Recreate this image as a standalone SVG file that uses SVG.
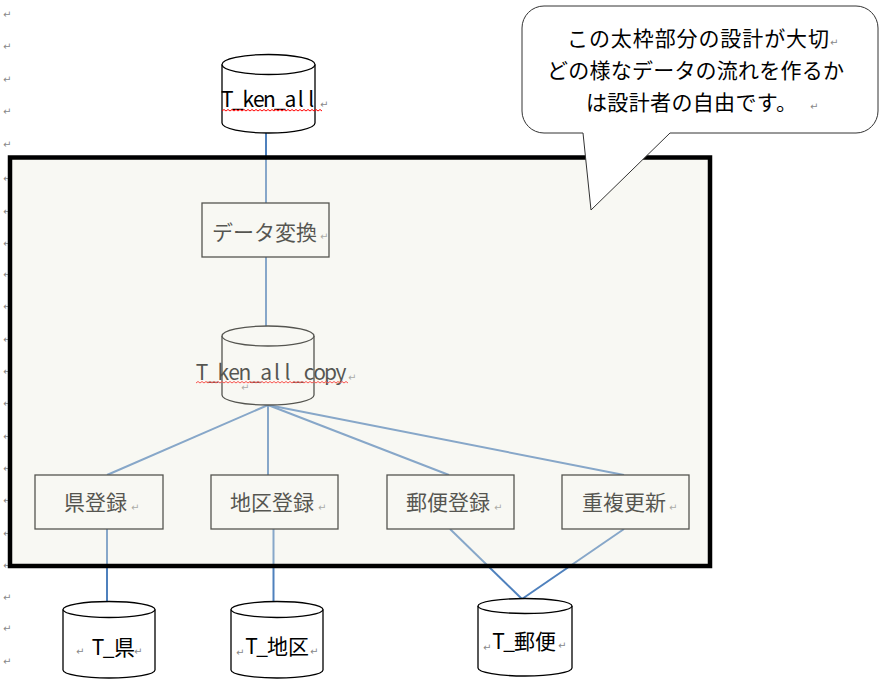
<svg xmlns="http://www.w3.org/2000/svg" width="885" height="687" viewBox="0 0 885 687">
<defs>
<style>
.jp{font-family:"Noto Sans CJK JP","Noto Sans CJK SC",sans-serif;font-size:21px;fill:#000}
.lat{font-family:"Noto Sans CJK JP","DejaVu Sans",sans-serif;font-size:21px;fill:#000;text-anchor:middle}
.pm{font-family:"DejaVu Sans",sans-serif;font-size:10px;fill:#888}
.cyl{fill:#fff;stroke:#000;stroke-width:1.3}
.box{fill:#fff;stroke:#000;stroke-width:1.3}
.con{stroke:#4f81bd;stroke-width:2;fill:none}
.wave{stroke:#f00;stroke-width:1;fill:none}
</style>
</defs>
<rect width="885" height="687" fill="#fff"/>
<g id="margin-marks">
<text class="pm" x="3" y="18">↵</text><text class="pm" x="3" y="50">↵</text><text class="pm" x="3" y="83">↵</text><text class="pm" x="3" y="115">↵</text><text class="pm" x="3" y="148">↵</text><text class="pm" x="3" y="182">↵</text><text class="pm" x="3" y="215">↵</text><text class="pm" x="3" y="247">↵</text><text class="pm" x="3" y="278">↵</text><text class="pm" x="3" y="310">↵</text><text class="pm" x="3" y="343">↵</text><text class="pm" x="3" y="375">↵</text><text class="pm" x="3" y="407">↵</text><text class="pm" x="3" y="440">↵</text><text class="pm" x="3" y="472">↵</text><text class="pm" x="3" y="504">↵</text><text class="pm" x="3" y="537">↵</text><text class="pm" x="3" y="569">↵</text><text class="pm" x="3" y="601">↵</text><text class="pm" x="3" y="632">↵</text><text class="pm" x="3" y="665">↵</text>
</g>
<g id="connectors">
<line class="con" x1="266" y1="133" x2="266" y2="203"/>
<line class="con" x1="266" y1="257" x2="266" y2="326"/>
<line class="con" x1="268" y1="405" x2="107" y2="475"/>
<line class="con" x1="268" y1="405" x2="268" y2="475"/>
<line class="con" x1="268" y1="405" x2="449" y2="475"/>
<line class="con" x1="268" y1="405" x2="624" y2="475"/>
<line class="con" x1="107" y1="529" x2="107" y2="602"/>
<line class="con" x1="273.5" y1="529" x2="273.5" y2="602"/>
<line class="con" x1="450" y1="529" x2="522" y2="599"/>
<line class="con" x1="624" y1="529" x2="522" y2="599"/>
</g>
<g id="T_ken_all">
<path class="cyl" d="M222,64.5 V123 A46.5,10 0 0 0 315,123 V64.5"/>
<ellipse class="cyl" cx="268.5" cy="64.5" rx="46.5" ry="10"/>
<text class="lat" x="227.3 237.8 248.3 258.8 269.3 279.8 290.3 300.8 311.3" y="107">T_ken_all</text>
<path class="wave" d="M222,111 l2,-1.5 l2,1.5 l2,-1.5 l2,1.5 l2,-1.5 l2,1.5 l2,-1.5 l2,1.5 l2,-1.5 l2,1.5 l2,-1.5 l2,1.5 l2,-1.5 l2,1.5 l2,-1.5 l2,1.5 l2,-1.5 l2,1.5 l2,-1.5 l2,1.5 l2,-1.5 l2,1.5 l2,-1.5 l2,1.5 l2,-1.5 l2,1.5 l2,-1.5 l2,1.5 l2,-1.5 l2,1.5 l2,-1.5 l2,1.5 l2,-1.5 l2,1.5 l2,-1.5 l2,1.5 l2,-1.5 l2,1.5 l2,-1.5 l2,1.5 l2,-1.5 l2,1.5 l2,-1.5 l2,1.5 l2,-1.5 l2,1.5 l2,-1.5 l2,1.5 l2,-1.5 l2,1.5"/>
<text class="pm" x="320" y="108">↵</text>
</g>
<g id="data-transform">
<rect class="box" x="202" y="203" width="127" height="54"/>
<text class="jp" x="212" y="240">データ変換</text>
<text class="pm" x="320" y="240">↵</text>
</g>
<g id="T_ken_all_copy">
<path class="cyl" d="M222,336 V395 A46,10 0 0 0 314,395 V336"/>
<ellipse class="cyl" cx="268" cy="336" rx="46" ry="10"/>
<text class="lat" x="202 212.7 223.4 234.1 244.8 255.5 266.2 276.9 287.6 298.3 309 319.7 330.4 341.1" y="380">T_ken_all_copy</text>
<path class="wave" d="M196,383 l2,-1.5 l2,1.5 l2,-1.5 l2,1.5 l2,-1.5 l2,1.5 l2,-1.5 l2,1.5 l2,-1.5 l2,1.5 l2,-1.5 l2,1.5 l2,-1.5 l2,1.5 l2,-1.5 l2,1.5 l2,-1.5 l2,1.5 l2,-1.5 l2,1.5 l2,-1.5 l2,1.5 l2,-1.5 l2,1.5 l2,-1.5 l2,1.5 l2,-1.5 l2,1.5 l2,-1.5 l2,1.5 l2,-1.5 l2,1.5 l2,-1.5 l2,1.5 l2,-1.5 l2,1.5 l2,-1.5 l2,1.5 l2,-1.5 l2,1.5 l2,-1.5 l2,1.5 l2,-1.5 l2,1.5 l2,-1.5 l2,1.5 l2,-1.5 l2,1.5 l2,-1.5 l2,1.5 l2,-1.5 l2,1.5 l2,-1.5 l2,1.5 l2,-1.5 l2,1.5 l2,-1.5 l2,1.5 l2,-1.5 l2,1.5 l2,-1.5 l2,1.5 l2,-1.5 l2,1.5 l2,-1.5 l2,1.5 l2,-1.5 l2,1.5 l2,-1.5 l2,1.5 l2,-1.5 l2,1.5 l2,-1.5 l2,1.5 l2,-1.5 l2,1.5"/>
<text class="pm" x="241" y="391">↵</text>
<text class="pm" x="348" y="381">↵</text>
</g>
<g id="ken-touroku">
<rect class="box" x="35" y="475" width="128" height="54"/>
<text class="jp" x="64" y="510">県登録</text>
<text class="pm" x="131" y="511">↵</text>
</g>
<g id="chiku-touroku">
<rect class="box" x="211" y="475" width="127" height="54"/>
<text class="jp" x="230" y="510">地区登録</text>
<text class="pm" x="318" y="511">↵</text>
</g>
<g id="yuubin-touroku">
<rect class="box" x="387" y="475" width="127" height="54"/>
<text class="jp" x="406" y="510">郵便登録</text>
<text class="pm" x="494" y="511">↵</text>
</g>
<g id="chouhuku-koushin">
<rect class="box" x="562" y="475" width="127" height="54"/>
<text class="jp" x="582" y="510">重複更新</text>
<text class="pm" x="669" y="511">↵</text>
</g>
<g id="frame-overlay">
<rect x="10" y="157.5" width="700" height="408.5" fill="rgb(236,236,221)" fill-opacity="0.36"/>
</g>
<g id="T_ken">
<path class="cyl" d="M63,609.5 V670 A46,8 0 0 0 155,670 V609.5"/>
<ellipse class="cyl" cx="109" cy="609.5" rx="46" ry="8"/>
<text class="pm" x="76" y="655">↵</text>
<text class="lat" x="98 108.5" y="655">T_</text>
<text class="jp" x="114" y="655">県</text>
<text class="pm" x="134" y="655">↵</text>
</g>
<g id="T_chiku">
<path class="cyl" d="M231,609.5 V670 A46,8 0 0 0 323,670 V609.5"/>
<ellipse class="cyl" cx="277" cy="609.5" rx="46" ry="8"/>
<text class="lat" x="251.5 262" y="654">T_</text>
<text class="jp" x="267" y="654">地区</text>
<text class="pm" x="236" y="656">↵</text>
<text class="pm" x="310" y="655">↵</text>
</g>
<g id="T_yuubin">
<path class="cyl" d="M478,606 V668 A47,8 0 0 0 572,668 V606"/>
<ellipse class="cyl" cx="525" cy="606" rx="47" ry="7.5"/>
<text class="lat" x="498.5 509" y="649">T_</text>
<text class="jp" x="514" y="649">郵便</text>
<text class="pm" x="483" y="651">↵</text>
<text class="pm" x="558" y="649">↵</text>
</g>
<g id="frame-border">
<rect x="10" y="157.5" width="700" height="408.5" fill="none" stroke="#000" stroke-width="4.5"/>
</g>
<g id="callout">
<path d="M544,6 H856 A22,22 0 0 1 878,28 V111 A22,22 0 0 1 856,133 H670 L591,210 L583,133 H544 A22,22 0 0 1 522,111 V28 A22,22 0 0 1 544,6 Z" fill="#fff" stroke="#333" stroke-width="1"/>
<text class="jp" x="567" y="46" textLength="262" lengthAdjust="spacing">この太枠部分の設計が大切</text>
<text class="pm" x="830" y="46">↵</text>
<text class="jp" x="547" y="78" textLength="297" lengthAdjust="spacing">どの様なデータの流れを作るか</text>
<text class="jp" x="586" y="110" textLength="211" lengthAdjust="spacing">は設計者の自由です。</text>
<text class="pm" x="810" y="110">↵</text>
</g>
</svg>
